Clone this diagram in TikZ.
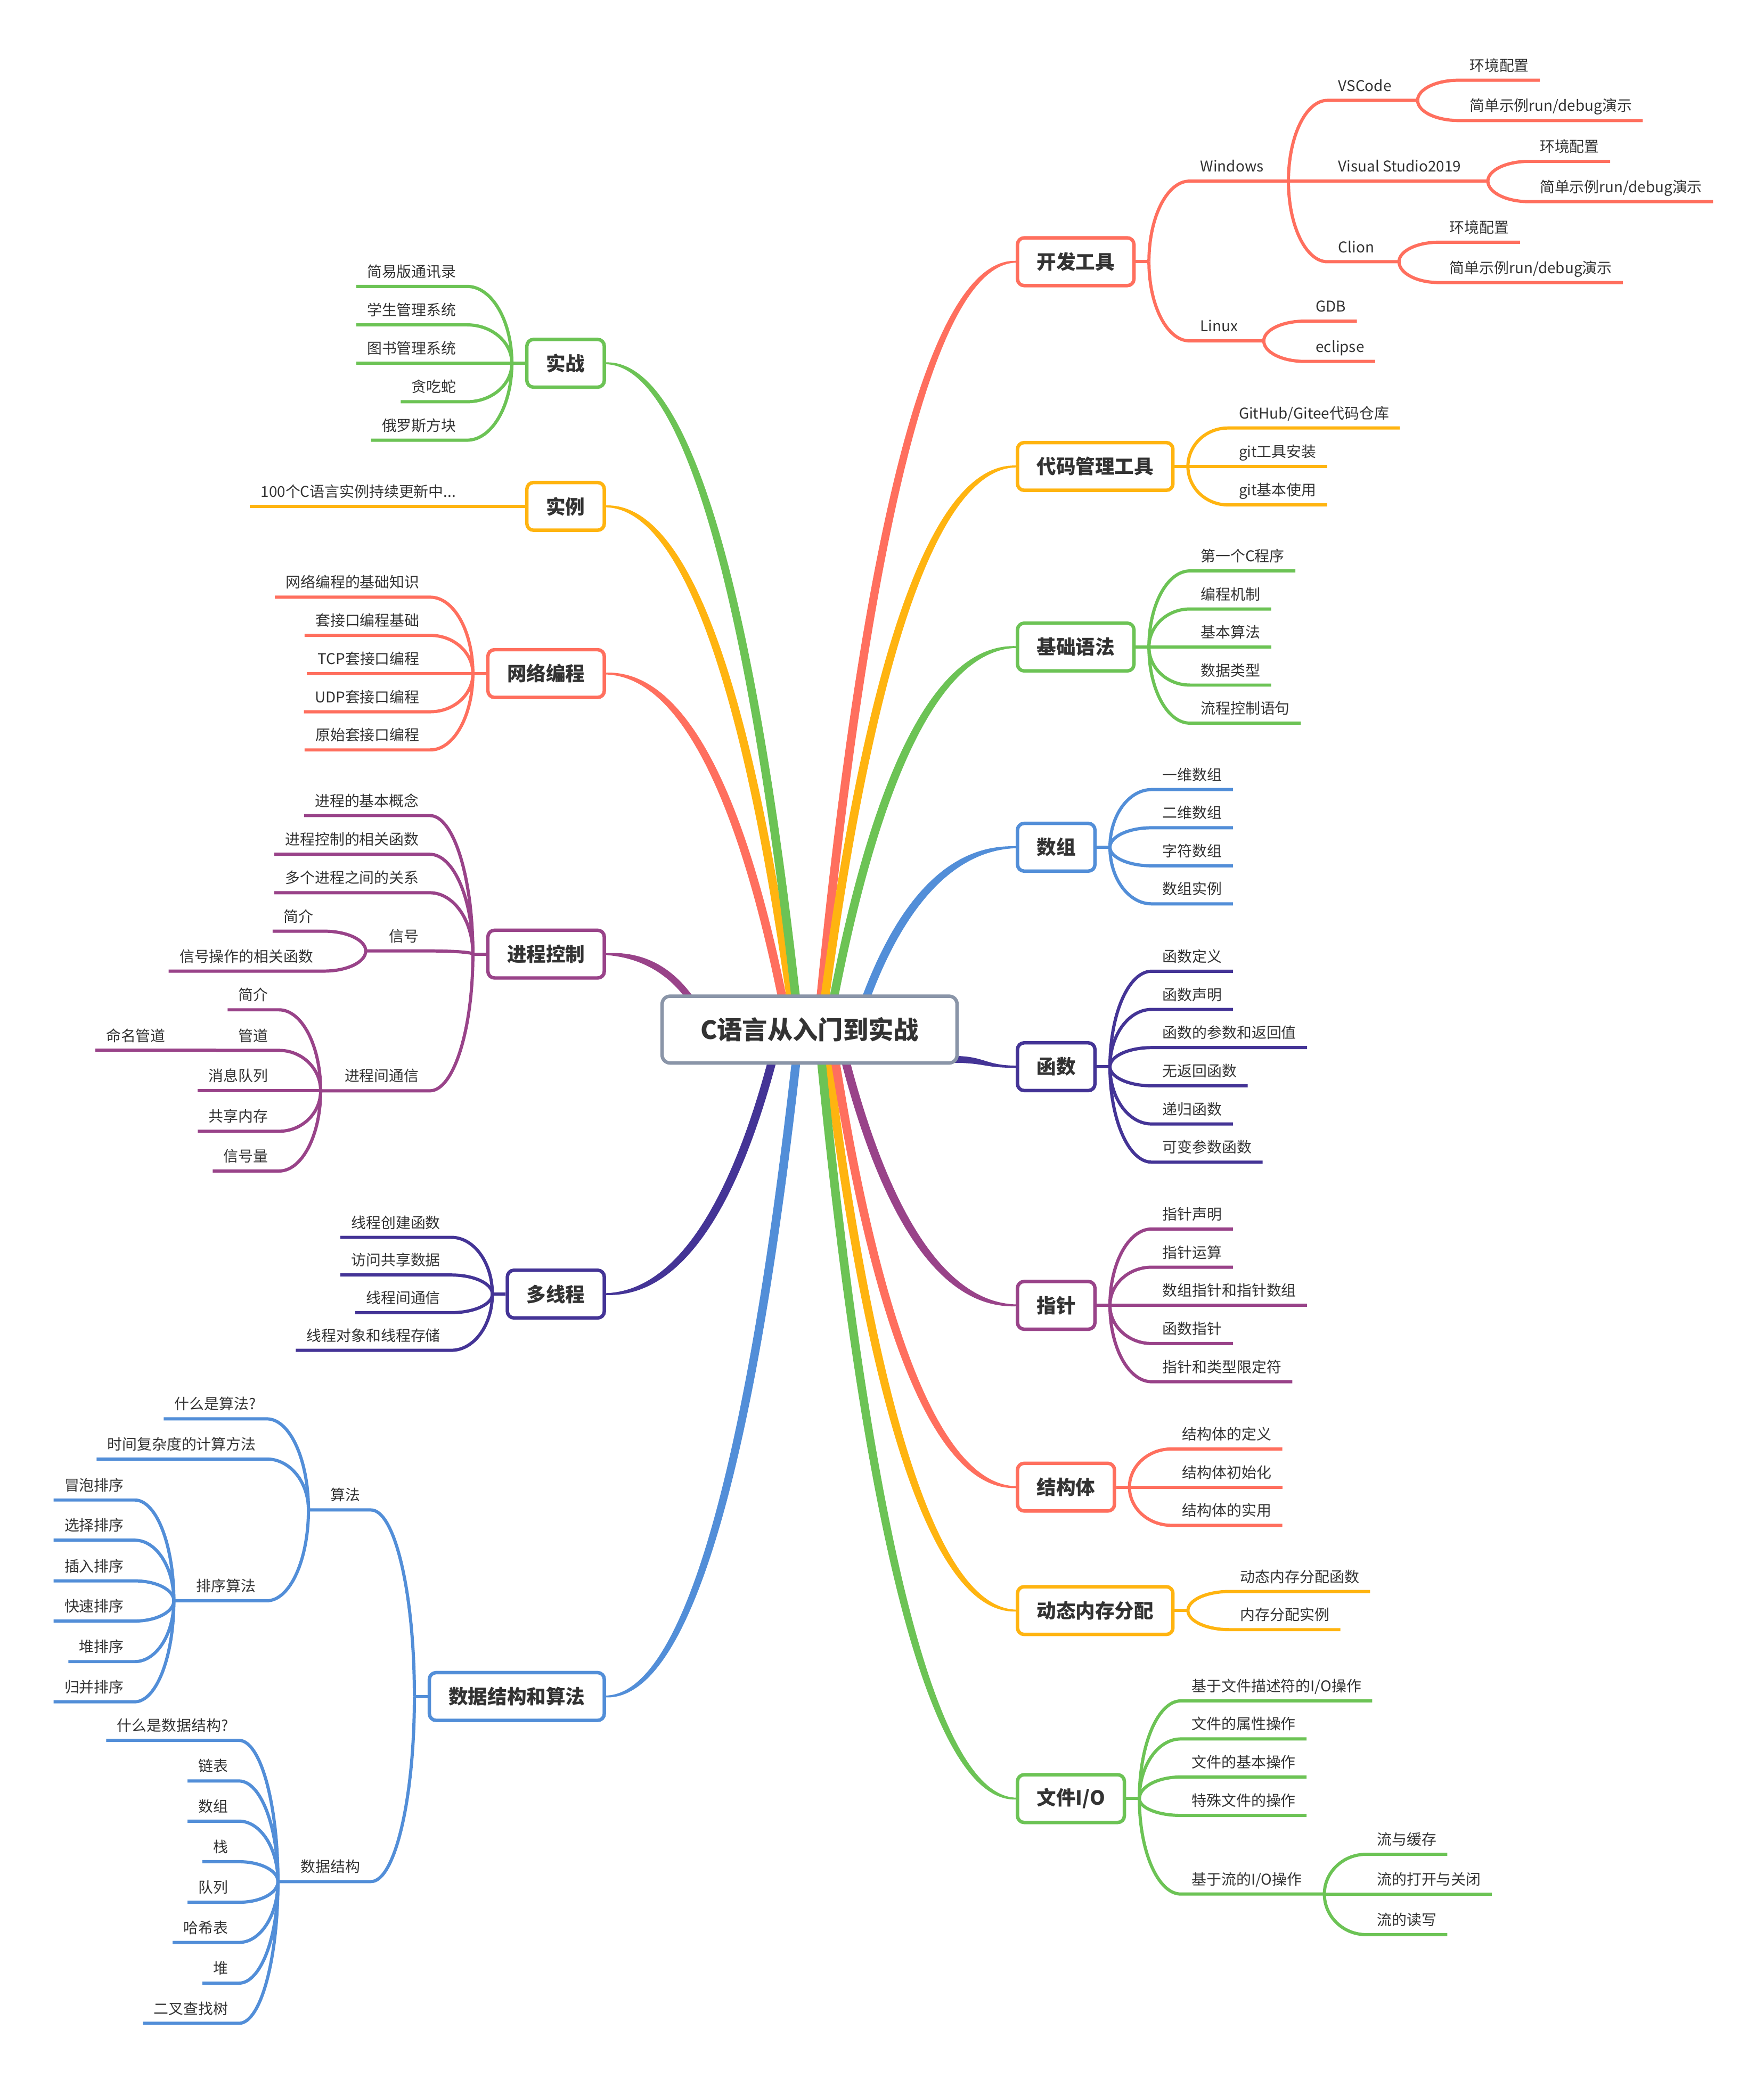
\documentclass[tikz,border=0pt]{standalone}
\usepackage{fontspec}
\setmainfont{Noto Sans CJK SC}
\usetikzlibrary{calc}
\pgfdeclarelayer{bg}
\pgfsetlayers{bg,main}
\definecolor{mmred}{RGB}{255,111,94}
\definecolor{mmyel}{RGB}{255,180,16}
\definecolor{mmgrn}{RGB}{108,195,85}
\definecolor{mmblu}{RGB}{82,142,216}
\definecolor{mmind}{RGB}{68,52,150}
\definecolor{mmmag}{RGB}{153,67,137}
\definecolor{mmgray}{RGB}{138,149,168}
\definecolor{txt}{RGB}{51,51,51}
\newcommand\leaffont{\fontsize{11.2}{13}\selectfont}
\newcommand\boxfont{\fontsize{14.7}{17}\selectfont\bfseries}
\newcommand\rootfont{\fontsize{19}{22}\selectfont\bfseries}
\tikzset{
  leaf/.style={inner xsep=8pt, inner ysep=6.8pt, text height=8.5pt, text depth=0pt, font=\leaffont, text=txt},
  br/.style={line width=2.4pt, line join=round},
  topic/.style={draw=#1, line width=2.6pt, rounded corners=5pt, fill=white, minimum height=36pt, inner xsep=14.5pt, inner ysep=0pt, font=\boxfont, text=txt},
  rootbox/.style={draw=mmgray, line width=2.6pt, rounded corners=6pt, fill=white, minimum width=222.4pt, minimum height=50.4pt, inner sep=0pt, font=\rootfont, text=txt},
}
% right-side leaf
\newcommand\leafR[5]{%
  \node[leaf,anchor=south west] (#3) at #4 {#5};
  \draw[br,#1] let \p1=(#2), \p2=(#3.south west) in (\p1) .. controls (\x1,{\y1+0.552*(\y2-\y1)}) and ({\x1+0.448*(\x2-\x1)},\y2) .. (\p2) -- (#3.south east);}
% left-side leaf
\newcommand\leafL[5]{%
  \node[leaf,anchor=south east] (#3) at #4 {#5};
  \draw[br,#1] let \p1=(#2), \p2=(#3.south east) in (\p1) .. controls (\x1,{\y1+0.552*(\y2-\y1)}) and ({\x1+0.448*(\x2-\x1)},\y2) .. (\p2) -- (#3.south west);}
% right-side mid node with junction
\newcommand\midR[6]{%
  \node[leaf,anchor=south west] (#3) at #4 {#5};
  \path let \p1=(#3.south west) in (#6pt,\y1) coordinate (#3j);
  \draw[br,#1] let \p1=(#2), \p2=(#3.south west) in (\p1) .. controls (\x1,{\y1+0.552*(\y2-\y1)}) and ({\x1+0.448*(\x2-\x1)},\y2) .. (\p2) -- (#3j);}
\newcommand\midL[6]{%
  \node[leaf,anchor=south east] (#3) at #4 {#5};
  \path let \p1=(#3.south east) in (#6pt,\y1) coordinate (#3j);
  \draw[br,#1] let \p1=(#2), \p2=(#3.south east) in (\p1) .. controls (\x1,{\y1+0.552*(\y2-\y1)}) and ({\x1+0.448*(\x2-\x1)},\y2) .. (\p2) -- (#3j);}
% topic boxes
\newcommand\boxR[4]{%
  \node[topic=#1,anchor=west] (#2) at #3 {#4};
  \coordinate (#2j) at ([xshift=10pt]#2.east);
  \draw[br,#1] (#2.east) -- (#2j);}
\newcommand\boxL[4]{%
  \node[topic=#1,anchor=east] (#2) at #3 {#4};
  \coordinate (#2j) at ([xshift=-10pt]#2.west);
  \draw[br,#1] (#2.west) -- (#2j);}
% tapered main branch
\newcommand\mainlink[4]{%
  \fill[#1] let \p0=(#2), \p3=(#3) in
    ({\x0+(#4)},\y0) .. controls ({\x0+0.15*(\x3-\x0)+(#4)},{\y0+0.4*(\y3-\y0)}) and ({\x0+0.45*(\x3-\x0)+0.9*(#4)},{\y3+3pt}) .. (\x3,{\y3+0.7pt})
    -- (\x3,{\y3-0.7pt}) .. controls ({\x0+0.45*(\x3-\x0)-0.9*(#4)},{\y3-3pt}) and ({\x0+0.15*(\x3-\x0)-(#4)},{\y0+0.4*(\y3-\y0)}) .. ({\x0-(#4)},\y0) -- cycle;}

\begin{document}
\begin{tikzpicture}[x=1pt,y=-1pt]
\begin{pgfonlayer}{bg}
\fill[white] (0,0) rectangle (1330,1568);
\end{pgfonlayer}
\useasboundingbox (0,0) rectangle (1330,1568);

\node[rootbox] (root) at (610.5,776.5) {C语言从入门到实战};

% ---------- right side ----------
\boxR{mmred}{kf}{(766,197.4)}{开发工具}
\midR{mmred}{kfj}{win}{(897,136.6)}{Windows}{971.6}
\midR{mmred}{winj}{vsc}{(1001,75.7)}{VSCode}{1069}
\leafR{mmred}{vscj}{vsca}{(1100,60.5)}{环境配置}
\leafR{mmred}{vscj}{vscb}{(1100,90.9)}{简单示例run/debug演示}
\midR{mmred}{winj}{vs}{(1001,136.6)}{Visual Studio2019}{1122}
\leafR{mmred}{vsj}{vsa}{(1153,121.7)}{环境配置}
\leafR{mmred}{vsj}{vsb}{(1153,152.1)}{简单示例run/debug演示}
\midR{mmred}{winj}{cl}{(1001,197.4)}{Clion}{1055}
\leafR{mmred}{clj}{cla}{(1085,182.7)}{环境配置}
\leafR{mmred}{clj}{clb}{(1085,213.1)}{简单示例run/debug演示}
\midR{mmred}{kfj}{lx}{(897,257.1)}{Linux}{953}
\leafR{mmred}{lxj}{lxa}{(984,242.2)}{GDB}
\leafR{mmred}{lxj}{lxb}{(984,272.6)}{eclipse}

\boxR{mmyel}{dm}{(766,351.8)}{代码管理工具}
\leafR{mmyel}{dmj}{dma}{(926,322.8)}{GitHub/Gitee代码仓库}
\leafR{mmyel}{dmj}{dmb}{(926,351.8)}{git工具安装}
\leafR{mmyel}{dmj}{dmc}{(926,380.8)}{git基本使用}

\boxR{mmgrn}{jc}{(766,488)}{基础语法}
\leafR{mmgrn}{jcj}{jca}{(897.3,430.6)}{第一个C程序}
\leafR{mmgrn}{jcj}{jcb}{(897.3,459.3)}{编程机制}
\leafR{mmgrn}{jcj}{jcc}{(897.3,488)}{基本算法}
\leafR{mmgrn}{jcj}{jcd}{(897.3,516.7)}{数据类型}
\leafR{mmgrn}{jcj}{jce}{(897.3,545.4)}{流程控制语句}

\boxR{mmblu}{sz}{(766,639)}{数组}
\leafR{mmblu}{szj}{sza}{(868.5,595.5)}{一维数组}
\leafR{mmblu}{szj}{szb}{(868.5,624.3)}{二维数组}
\leafR{mmblu}{szj}{szc}{(868.5,653)}{字符数组}
\leafR{mmblu}{szj}{szd}{(868.5,681.7)}{数组实例}

\boxR{mmind}{hs}{(766,804.5)}{函数}
\leafR{mmind}{hsj}{hsa}{(868.5,732.5)}{函数定义}
\leafR{mmind}{hsj}{hsb}{(868.5,761.3)}{函数声明}
\leafR{mmind}{hsj}{hsc}{(868.5,790.1)}{函数的参数和返回值}
\leafR{mmind}{hsj}{hsd}{(868.5,818.9)}{无返回函数}
\leafR{mmind}{hsj}{hse}{(868.5,847.7)}{递归函数}
\leafR{mmind}{hsj}{hsf}{(868.5,876.5)}{可变参数函数}

\boxR{mmmag}{zz}{(766,984.5)}{指针}
\leafR{mmmag}{zzj}{zza}{(868.5,926.9)}{指针声明}
\leafR{mmmag}{zzj}{zzb}{(868.5,955.7)}{指针运算}
\leafR{mmmag}{zzj}{zzc}{(868.5,984.5)}{数组指针和指针数组}
\leafR{mmmag}{zzj}{zzd}{(868.5,1013.3)}{函数指针}
\leafR{mmmag}{zzj}{zze}{(868.5,1042.1)}{指针和类型限定符}

\boxR{mmred}{jg}{(766,1121.6)}{结构体}
\leafR{mmred}{jgj}{jga}{(883.4,1092.8)}{结构体的定义}
\leafR{mmred}{jgj}{jgb}{(883.4,1121.6)}{结构体初始化}
\leafR{mmred}{jgj}{jgc}{(883.4,1150.4)}{结构体的实用}

\boxR{mmyel}{dt}{(766,1214.7)}{动态内存分配}
\leafR{mmyel}{dtj}{dta}{(927.2,1200.3)}{动态内存分配函数}
\leafR{mmyel}{dtj}{dtb}{(927.2,1229.1)}{内存分配实例}

\boxR{mmgrn}{wj}{(766,1356.5)}{文件I/O}
\leafR{mmgrn}{wjj}{wja}{(890.5,1282.8)}{基于文件描述符的I/O操作}
\leafR{mmgrn}{wjj}{wjb}{(890.5,1311.5)}{文件的属性操作}
\leafR{mmgrn}{wjj}{wjc}{(890.5,1340.2)}{文件的基本操作}
\leafR{mmgrn}{wjj}{wjd}{(890.5,1369.2)}{特殊文件的操作}
\midR{mmgrn}{wjj}{wje}{(890.5,1428.5)}{基于流的I/O操作}{998.7}
\leafR{mmgrn}{wjej}{wjea}{(1030.2,1398.5)}{流与缓存}
\leafR{mmgrn}{wjej}{wjeb}{(1030.2,1428.5)}{流的打开与关闭}
\leafR{mmgrn}{wjej}{wjec}{(1030.2,1459.1)}{流的读写}

% ---------- left side ----------
\boxL{mmgrn}{sl}{(457,274)}{实战}
\leafL{mmgrn}{slj}{sla}{(352.2,216)}{简易版通讯录}
\leafL{mmgrn}{slj}{slb}{(352.2,245)}{学生管理系统}
\leafL{mmgrn}{slj}{slc}{(352.2,274)}{图书管理系统}
\leafL{mmgrn}{slj}{sld}{(352.2,303)}{贪吃蛇}
\leafL{mmgrn}{slj}{sle}{(352.2,332)}{俄罗斯方块}

\boxL{mmyel}{sli}{(457,381.9)}{实例}
\leafL{mmyel}{slij}{slia}{(352,381.9)}{100个C语言实例持续更新中...}

\boxL{mmred}{wl}{(457,508)}{网络编程}
\leafL{mmred}{wlj}{wla}{(324.5,450.4)}{网络编程的基础知识}
\leafL{mmred}{wlj}{wlb}{(324.5,479.2)}{套接口编程基础}
\leafL{mmred}{wlj}{wlc}{(324.5,508)}{TCP套接口编程}
\leafL{mmred}{wlj}{wld}{(324.5,536.8)}{UDP套接口编程}
\leafL{mmred}{wlj}{wle}{(324.5,565.6)}{原始套接口编程}

\boxL{mmmag}{jk}{(457,719.6)}{进程控制}
\leafL{mmmag}{jkj}{jka}{(324.1,615.1)}{进程的基本概念}
\leafL{mmmag}{jkj}{jkb}{(324.1,644.3)}{进程控制的相关函数}
\leafL{mmmag}{jkj}{jkc}{(324.1,673.3)}{多个进程之间的关系}
\midL{mmmag}{jkj}{xh}{(324.1,717.2)}{信号}{275.8}
\leafL{mmmag}{xhj}{xha}{(244.4,702.3)}{简介}
\leafL{mmmag}{xhj}{xhb}{(244.4,732.4)}{信号操作的相关函数}
\midL{mmmag}{jkj}{tx}{(324.1,822.7)}{进程间通信}{241.8}
\leafL{mmmag}{txj}{txa}{(210.4,761.6)}{简介}
\midL{mmmag}{txj}{gd}{(210.4,792.2)}{管道}{163}
\leafL{mmmag}{gdj}{gda}{(133,792.2)}{命名管道}
\leafL{mmmag}{txj}{txc}{(210.4,822.7)}{消息队列}
\leafL{mmmag}{txj}{txd}{(210.4,853.2)}{共享内存}
\leafL{mmmag}{txj}{txe}{(210.4,883.2)}{信号量}

\boxL{mmind}{dx}{(457,976)}{多线程}
\leafL{mmind}{dxj}{dxa}{(340.3,933.2)}{线程创建函数}
\leafL{mmind}{dxj}{dxb}{(340.3,961.6)}{访问共享数据}
\leafL{mmind}{dxj}{dxc}{(340.3,990)}{线程间通信}
\leafL{mmind}{dxj}{dxd}{(340.3,1018.4)}{线程对象和线程存储}

\boxL{mmblu}{sj}{(457,1279.5)}{数据结构和算法}
\midL{mmblu}{sjj}{sf}{(279.7,1138.8)}{算法}{232.6}
\leafL{mmblu}{sfj}{sfa}{(201.2,1070.1)}{什么是算法?}
\leafL{mmblu}{sfj}{sfb}{(201.2,1100.4)}{时间复杂度的计算方法}
\midL{mmblu}{sfj}{px}{(201.2,1207.3)}{排序算法}{131.1}
\leafL{mmblu}{pxj}{pxa}{(101.6,1131.3)}{冒泡排序}
\leafL{mmblu}{pxj}{pxb}{(101.6,1161.6)}{选择排序}
\leafL{mmblu}{pxj}{pxc}{(101.6,1192.3)}{插入排序}
\leafL{mmblu}{pxj}{pxd}{(101.6,1222.6)}{快速排序}
\leafL{mmblu}{pxj}{pxe}{(101.6,1253.2)}{堆排序}
\leafL{mmblu}{pxj}{pxf}{(101.6,1283.5)}{归并排序}
\midL{mmblu}{sjj}{sg}{(279.7,1419.1)}{数据结构}{209.6}
\leafL{mmblu}{sgj}{sga}{(180.2,1312.6)}{什么是数据结构?}
\leafL{mmblu}{sgj}{sgb}{(180.2,1343.2)}{链表}
\leafL{mmblu}{sgj}{sgc}{(180.2,1373.5)}{数组}
\leafL{mmblu}{sgj}{sgd}{(180.2,1404.1)}{栈}
\leafL{mmblu}{sgj}{sge}{(180.2,1434.7)}{队列}
\leafL{mmblu}{sgj}{sgf}{(180.2,1465)}{哈希表}
\leafL{mmblu}{sgj}{sgg}{(180.2,1495.7)}{堆}
\leafL{mmblu}{sgj}{sgh}{(180.2,1526)}{二叉查找树}

% ---------- main branches ----------
\coordinate (s-wl) at ([xshift=92.2pt,yshift=-4pt]root.north west);
\coordinate (s-sli) at ([xshift=98.5pt,yshift=-4pt]root.north west);
\coordinate (s-sl) at ([xshift=102.2pt,yshift=-4pt]root.north west);
\coordinate (s-jk) at ([xshift=23pt,yshift=-4pt]root.north west);
\coordinate (s-kf) at ([xshift=120.8pt,yshift=-4pt]root.north west);
\coordinate (s-dm) at ([xshift=123.9pt,yshift=-4pt]root.north west);
\coordinate (s-jc) at ([xshift=130.5pt,yshift=-4pt]root.north west);
\coordinate (s-sz) at ([xshift=154.6pt,yshift=-4pt]root.north west);
\coordinate (s-dx) at ([xshift=84.6pt,yshift=4pt]root.south west);
\coordinate (s-sj) at ([xshift=102.5pt,yshift=4pt]root.south west);
\coordinate (s-wj) at ([xshift=121.3pt,yshift=4pt]root.south west);
\coordinate (s-dt) at ([xshift=126.3pt,yshift=4pt]root.south west);
\coordinate (s-jg) at ([xshift=131.7pt,yshift=4pt]root.south west);
\coordinate (s-zz) at ([xshift=139.3pt,yshift=4pt]root.south west);
\coordinate (s-hs) at ([xshift=-4pt,yshift=4pt]root.south east);

\begin{pgfonlayer}{bg}
% top: red, yellow, green
\mainlink{mmred}{s-wl}{wl.east}{3.3pt}
\mainlink{mmred}{s-kf}{kf.west}{-3.3pt}
\mainlink{mmyel}{s-sli}{sli.east}{3.3pt}
\mainlink{mmyel}{s-dm}{dm.west}{-3.3pt}
\mainlink{mmgrn}{s-sl}{sl.east}{3.3pt}
\mainlink{mmgrn}{s-jc}{jc.west}{-3.3pt}
\mainlink{mmblu}{s-sz}{sz.west}{-3.3pt}
\mainlink{mmmag}{s-jk}{jk.east}{3.3pt}
% bottom
\mainlink{mmyel}{s-dt}{dt.west}{3.3pt}
\mainlink{mmgrn}{s-wj}{wj.west}{3.3pt}
\mainlink{mmred}{s-jg}{jg.west}{3.3pt}
\mainlink{mmmag}{s-zz}{zz.west}{3.3pt}
\mainlink{mmblu}{s-sj}{sj.east}{-3.3pt}
\mainlink{mmind}{s-dx}{dx.east}{-3.3pt}
\fill[mmind] let \p0=(s-hs), \p3=(hs.west) in
  (\x0,{\y0+2.6pt}) .. controls ({\x0+0.5*(\x3-\x0)},{\y0+2.6pt}) and ({\x0+0.5*(\x3-\x0)},{\y3+1pt}) .. (\x3,{\y3+0.8pt})
  -- (\x3,{\y3-0.8pt}) .. controls ({\x0+0.5*(\x3-\x0)},{\y3-1pt}) and ({\x0+0.5*(\x3-\x0)},{\y0-2.6pt}) .. (\x0,{\y0-2.6pt}) -- cycle;
\end{pgfonlayer}
\end{tikzpicture}
\end{document}
